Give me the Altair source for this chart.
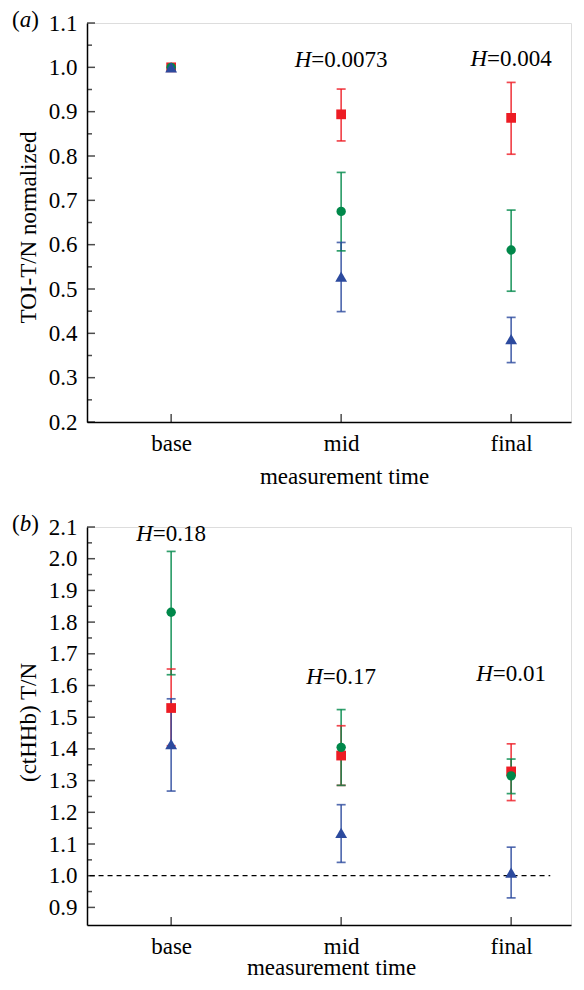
import altair as alt
import pandas as pd

# ---------------- data ----------------
CATEGORIES = ["base", "mid", "final"]
SERIES = ["group 1", "group 2", "group 3"]
COLORS = ["#ED1C24", "#00884A", "#2C4A9E"]
SHAPES = ["square", "circle", "triangle-up"]
SIZES = [95, 88, 140]

# panel (a): TOI-T/N normalized
A_G1_MEAN = [1.0, 0.894, 0.886]
A_G1_LOW = [1.0, 0.834, 0.804]
A_G1_HIGH = [1.0, 0.951, 0.966]
A_G2_MEAN = [1.0, 0.675, 0.588]
A_G2_LOW = [1.0, 0.586, 0.495]
A_G2_HIGH = [1.0, 0.763, 0.678]
A_G3_MEAN = [1.0, 0.528, 0.387]
A_G3_LOW = [1.0, 0.449, 0.334]
A_G3_HIGH = [1.0, 0.605, 0.436]
A_H_TEXT = ["", "0.0073", "0.004"]
A_H_Y = [None, 1.0, 1.004]
A_YTICKS = [0.2, 0.3, 0.4, 0.5, 0.6, 0.7, 0.8, 0.9, 1.0, 1.1]
A_YMINOR = [0.25, 0.35, 0.45, 0.55, 0.65, 0.75, 0.85, 0.95, 1.05]
A_DOMAIN = [0.2, 1.1]

# panel (b): (ctHHb) T/N
B_G1_MEAN = [1.529, 1.379, 1.329]
B_G1_LOW = [1.41, 1.285, 1.237]
B_G1_HIGH = [1.652, 1.473, 1.416]
B_G2_MEAN = [1.831, 1.405, 1.315]
B_G2_LOW = [1.634, 1.285, 1.259]
B_G2_HIGH = [2.023, 1.524, 1.368]
B_G3_MEAN = [1.415, 1.135, 1.01]
B_G3_LOW = [1.267, 1.042, 0.93]
B_G3_HIGH = [1.558, 1.224, 1.09]
B_H_TEXT = ["0.18", "0.17", "0.01"]
B_H_Y = [2.057, 1.606, 1.613]
B_YTICKS = [0.9, 1.0, 1.1, 1.2, 1.3, 1.4, 1.5, 1.6, 1.7, 1.8, 1.9, 2.0, 2.1]
B_YMINOR = [0.95, 1.05, 1.15, 1.25, 1.35, 1.45, 1.55, 1.65, 1.75, 1.85, 1.95, 2.05]
B_DOMAIN = [0.8445, 2.1]
REF_Y = 1.0
REF_X = [0.52, 3.23]

# ---------------- style ----------------
FONT = "Liberation Serif"
FS = 23
WIDTH = 484
PXU = 170.0
X_DOMAIN = [0.505, 0.505 + WIDTH / PXU]
LABEL_EXPR = "[" + ",".join(f"'{c}'" for c in CATEGORIES) + "][datum.value - 1]"

CHAR_W = {"H": 0.722, "=": 0.564, ".": 0.25}


def text_w(s):
    return sum(CHAR_W.get(ch, 0.5) for ch in s) * FS


def build_df(means, lows, highs):
    rows = []
    for s, m, lo, hi in zip(SERIES, means, lows, highs):
        for i, c in enumerate(CATEGORIES):
            rows.append(dict(cat=c, pos=i + 1, series=s, mean=m[i], lo=lo[i], hi=hi[i]))
    return pd.DataFrame(rows)


def h_df(texts, ys):
    rows = []
    for i, (t, y) in enumerate(zip(texts, ys)):
        if not t:
            continue
        rest = "=" + t
        wh = text_w("H")
        total = wh + text_w(rest)
        split = (i + 1) + (wh - total / 2) / PXU
        rows.append(dict(hx=split, hy=y, h="H", rest=rest))
    return pd.DataFrame(rows)


def panel(df, domain, height, yticks, yminor, ytitle, ytitle_y, xtitle_x, xtitle_y,
          htexts, hys, letter, ref=False):
    xscale = alt.Scale(domain=X_DOMAIN, nice=False, zero=False)
    yscale = alt.Scale(domain=domain, nice=False, zero=False)
    common = dict(grid=False, ticks=False, tickSize=0, domainColor="black", domainWidth=1.5,
                  labelFont=FONT, labelFontSize=FS, labelColor="black", labelPadding=10,
                  labelFlush=False, labelOverlap=False,
                  titleFont=FONT, titleFontSize=FS, titleFontWeight="normal", titleColor="black",
                  titleBaseline="alphabetic", titleAlign="center")
    xaxis = alt.Axis(values=[1, 2, 3], labelExpr=LABEL_EXPR, title="measurement time",
                     titleX=xtitle_x, titleY=xtitle_y, **common)
    yaxis = alt.Axis(values=yticks, format=".1f", title=ytitle, titleX=-52, titleY=ytitle_y,
                     titleAngle=270, **common)

    def X(f):
        return alt.X(f"{f}:Q", scale=xscale, axis=xaxis)

    def Y(f):
        return alt.Y(f"{f}:Q", scale=yscale, axis=yaxis)

    color = alt.Color("series:N", scale=alt.Scale(domain=SERIES, range=COLORS), legend=None)
    base = alt.Chart(df)
    errs = base.transform_filter("datum.hi > datum.lo")
    layers = []
    if ref:
        layers.append(
            alt.Chart(pd.DataFrame({"x0": [REF_X[0]], "x1": [REF_X[1]], "y": [REF_Y]}))
            .mark_rule(strokeDash=[5, 4], color="black", strokeWidth=1.2)
            .encode(x=X("x0"), x2="x1", y=Y("y"))
        )
    layers += [
        errs.mark_rule(strokeWidth=1.7, opacity=0.8).encode(x=X("pos"), y=Y("lo"), y2="hi", color=color),
        errs.mark_tick(orient="horizontal", size=9, thickness=1.7, opacity=0.8).encode(
            x=X("pos"), y=Y("lo"), color=color),
        errs.mark_tick(orient="horizontal", size=9, thickness=1.7, opacity=0.8).encode(
            x=X("pos"), y=Y("hi"), color=color),
    ]
    # one point layer per series, drawn in series order
    for s, c, shp, sz in zip(SERIES, COLORS, SHAPES, SIZES):
        layers.append(
            base.transform_filter(alt.datum.series == s)
            .mark_point(filled=True, opacity=1, strokeWidth=0, shape=shp, size=sz, color=c)
            .encode(x=X("pos"), y=Y("mean"))
        )
    layers += [
        alt.Chart(pd.DataFrame({"v": yticks})).mark_tick(
            orient="horizontal", size=8, thickness=1.5, color="black").encode(x=alt.value(4), y=Y("v")),
        alt.Chart(pd.DataFrame({"v": yminor})).mark_tick(
            orient="horizontal", size=5, thickness=1.5, color="black").encode(x=alt.value(2.5), y=Y("v")),
        alt.Chart(pd.DataFrame({"pos": [1, 2, 3]})).mark_tick(
            orient="vertical", size=8, thickness=1.5, color="black").encode(x=X("pos"), y=alt.value(height - 4)),
    ]
    hd = h_df(htexts, hys)
    layers += [
        alt.Chart(hd).mark_text(font=FONT, fontSize=FS, fontStyle="italic", align="right",
                                baseline="alphabetic", color="black").encode(x=X("hx"), y=Y("hy"), text="h:N"),
        alt.Chart(hd).mark_text(font=FONT, fontSize=FS, align="left",
                                baseline="alphabetic", color="black").encode(x=X("hx"), y=Y("hy"), text="rest:N"),
    ]
    one = pd.DataFrame({"k": [0]})
    x0 = -75
    ly = 4
    layers += [
        alt.Chart(one).mark_text(font=FONT, fontSize=FS, align="left", baseline="alphabetic", color="black")
        .encode(x=alt.value(x0), y=alt.value(ly), text=alt.value("(")),
        alt.Chart(one).mark_text(font=FONT, fontSize=FS, fontStyle="italic", align="left",
                                 baseline="alphabetic", color="black")
        .encode(x=alt.value(x0 + 0.333 * FS), y=alt.value(ly), text=alt.value(letter)),
        alt.Chart(one).mark_text(font=FONT, fontSize=FS, align="left", baseline="alphabetic", color="black")
        .encode(x=alt.value(x0 + 0.333 * FS + 0.5 * FS), y=alt.value(ly), text=alt.value(")")),
    ]
    return alt.layer(*layers).properties(width=WIDTH, height=height)


df_a = build_df([A_G1_MEAN, A_G2_MEAN, A_G3_MEAN], [A_G1_LOW, A_G2_LOW, A_G3_LOW],
                [A_G1_HIGH, A_G2_HIGH, A_G3_HIGH])
df_b = build_df([B_G1_MEAN, B_G2_MEAN, B_G3_MEAN], [B_G1_LOW, B_G2_LOW, B_G3_LOW],
                [B_G1_HIGH, B_G2_HIGH, B_G3_HIGH])

pa = panel(df_a, A_DOMAIN, 399, A_YTICKS, A_YMINOR, "TOI-T/N normalized", 204, 257, 61,
           A_H_TEXT, A_H_Y, "a")
pb = panel(df_b, B_DOMAIN, 398, B_YTICKS, B_YMINOR, "(ctHHb) T/N", 195, 244, 49,
           B_H_TEXT, B_H_Y, "b", ref=True)

chart = (
    alt.vconcat(pa, pb, spacing=105, bounds="flush")
    .properties(padding={"left": 3, "top": 0, "right": 0, "bottom": 0})
    .configure_view(stroke="transparent")
    .configure(background="white")
)

chart.save("out.html", embed_options={"renderer": "svg", "actions": False})
